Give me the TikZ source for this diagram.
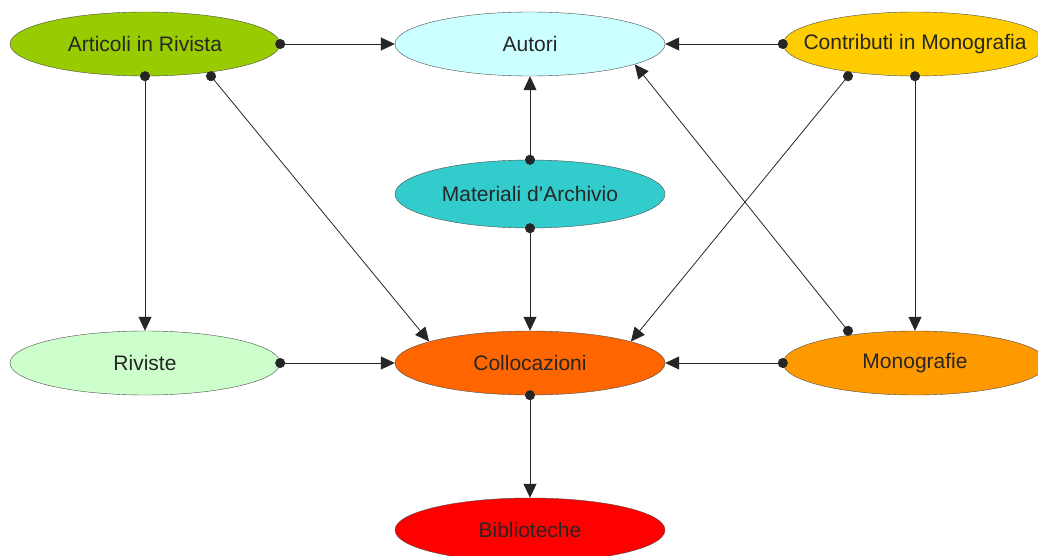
\documentclass[tikz,border=0pt]{standalone}
\usepackage{fontspec}
\setmainfont{Liberation Sans}
\usetikzlibrary{shapes.geometric,arrows.meta}
\definecolor{olivegreen}{HTML}{99CC00}
\definecolor{paleblue}{HTML}{CCFFFF}
\definecolor{goldyellow}{HTML}{FFCC00}
\definecolor{tealblue}{HTML}{33CCCC}
\definecolor{palegreen}{HTML}{CCFFCC}
\definecolor{darkorange}{HTML}{FF6600}
\definecolor{lightorange}{HTML}{FF9900}
\definecolor{brightred}{HTML}{FF0000}
\tikzset{
  entity/.style={ellipse,draw=black!70,thin,minimum width=270pt,minimum height=64pt,
    inner xsep=-60pt,inner ysep=0pt,font=\fontsize{21}{25}\selectfont,text=black!85},
  link/.style={draw=black!85,line width=0.8pt,shorten <=-5pt,
    {Circle[length=10pt]}-{Triangle[length=14pt,width=13pt]}}
}

\begin{document}
\begin{tikzpicture}[x=1pt,y=-1pt]
  \useasboundingbox (0,0) rectangle (1038,556);
  % top row
  \node[entity,fill=olivegreen] (art) at (145,44) {Articoli in Rivista};
  \node[entity,fill=paleblue] (aut) at (530,44) {Autori};
  \node[entity,fill=goldyellow,minimum width=264pt] (contr) at (915,44) {Contributi in Monografia};
  % middle
  \node[entity,fill=tealblue,minimum height=68pt] (mat) at (530,194) {Materiali d'Archivio};
  % lower row
  \node[entity,fill=palegreen] (riv) at (145,363) {Riviste};
  \node[entity,fill=darkorange] (coll) at (530,363) {Collocazioni};
  \node[entity,fill=lightorange,minimum width=264pt] (mono) at (915,363) {Monografie};
  \node[entity,fill=brightred] (bib) at (530,530) {Biblioteche};

  \draw[link] (art.east) -- (aut.west);
  \draw[link] (contr.west) -- (aut.east);
  \draw[link] (art.south) -- (riv.north);
  \draw[link] ([xshift=66]art.south) -- (coll.168);
  \draw[link] (mat.north) -- (aut.south);
  \draw[link] (mat.south) -- (coll.north);
  \draw[link] ([xshift=-67]contr.south) -- (coll.12);
  \draw[link] (contr.south) -- (mono.north);
  \draw[link] ([xshift=-67]mono.north) -- (aut.-11);
  \draw[link] (riv.east) -- (coll.west);
  \draw[link] (mono.west) -- (coll.east);
  \draw[link] (coll.south) -- (bib.north);
\end{tikzpicture}
\end{document}
